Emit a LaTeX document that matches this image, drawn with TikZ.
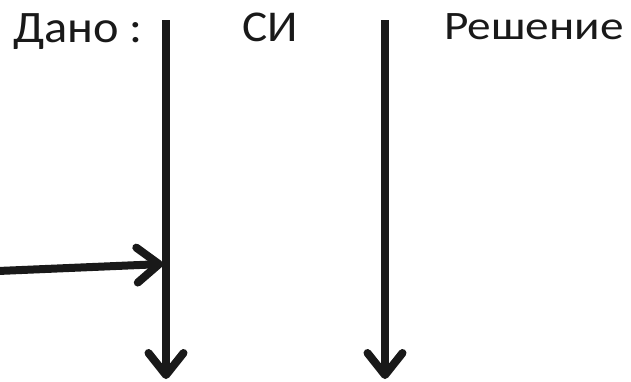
\documentclass[tikz,border=0pt]{standalone}
\usepackage{fontspec}
\setmainfont{Carlito}
\newfontfamily\headfont[FakeStretch=1.075]{Carlito}
\newfontfamily\widefont[FakeStretch=1.17]{Carlito}
\usetikzlibrary{arrows.meta}
\tikzset{
  heading/.style={inner sep=0pt, anchor=base west, text=black!90},
  flow/.style={line width=8pt, draw=black!90,
    -{Straight Barb[length=22pt, width=35pt, line cap=round, line join=round]}}
}
\begin{document}
\begin{tikzpicture}[x=1pt, y=-1pt]
  \useasboundingbox (0,0) rectangle (631,381);
  % column headings
  \node[heading, font=\headfont\fontsize{45}{50}\selectfont] (given) at (13,42) {Дано :};
  \node[heading, font=\headfont\fontsize{44}{50}\selectfont] (si) at (242,41.5) {СИ};
  \node[heading, font=\widefont\fontsize{40.4}{48}\selectfont] (solution) at (444,39.3) {Решение};
  % column separators
  \coordinate (s1top) at (166,20);
  \coordinate (s1bot) at (166,379);
  \coordinate (s2top) at (385,20);
  \coordinate (s2bot) at (385,379);
  \draw[flow] (s1top) -- (s1bot);
  \draw[flow] (s2top) -- (s2bot);
  % incoming arrow from the left
  \coordinate (inL) at (-2,271);
  \coordinate (inR) at (163,264);
  \draw[flow] (inL) -- (inR);
\end{tikzpicture}
\end{document}
